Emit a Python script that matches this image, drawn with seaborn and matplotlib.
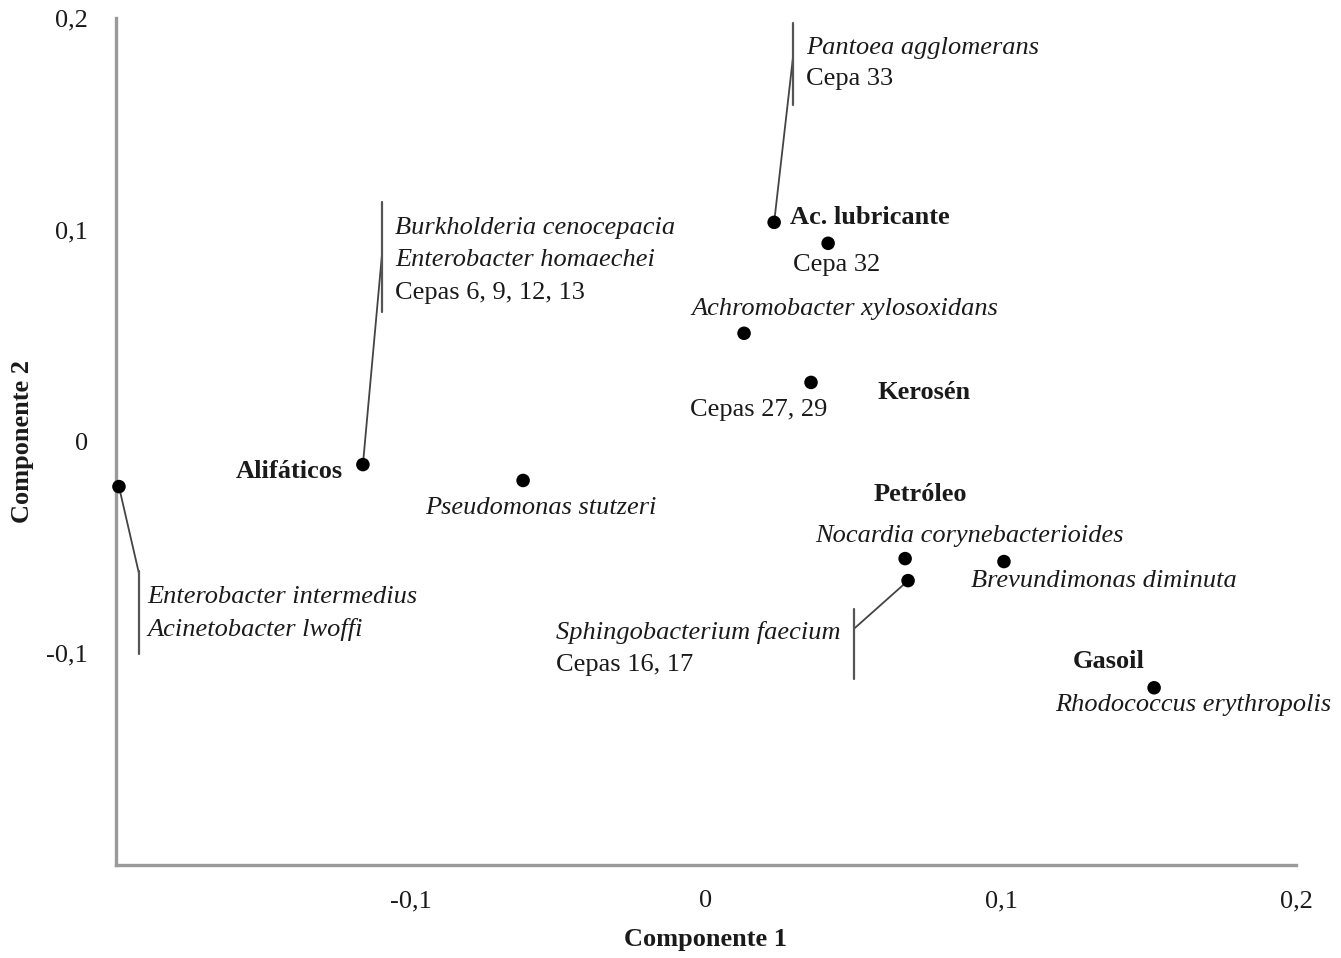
import matplotlib
matplotlib.use("Agg")
import matplotlib.pyplot as plt
import seaborn as sns
import pandas as pd

# Principal component scores of strains and hydrocarbon substrates
comp1 = [-0.199, -0.1163, -0.062, 0.0129, 0.0231, 0.0414, 0.0356, 0.0675, 0.0685, 0.101, 0.1519]
comp2 = [-0.0213, -0.0109, -0.0184, 0.0511, 0.1035, 0.0936, 0.0279, -0.0553, -0.0657, -0.0567, -0.1163]

# Label positions (data units) and styles
label_x = [0.0339, 0.0339, 0.0285, 0.0295, -0.1054, -0.1054, -0.1054, -0.0051, 0.0583,
           -0.0054, -0.1593, -0.0953, 0.0569, 0.0369, 0.0898, -0.0508, -0.0508, 0.1244,
           0.1183, -0.1895, -0.1895]
label_y = [0.1858, 0.1712, 0.1059, 0.0832, 0.1007, 0.0856, 0.0700, 0.0624, 0.0232,
           0.0147, -0.0142, -0.0312, -0.0251, -0.0444, -0.0657, -0.0903, -0.1054, -0.1040,
           -0.1243, -0.0733, -0.0889]
label_text = ["Pantoea agglomerans", "Cepa 33", "Ac. lubricante", "Cepa 32",
              "Burkholderia cenocepacia", "Enterobacter homaechei", "Cepas 6, 9, 12, 13",
              "Achromobacter xylosoxidans", "Kerosén", "Cepas 27, 29", "Alifáticos",
              "Pseudomonas stutzeri", "Petróleo", "Nocardia corynebacterioides",
              "Brevundimonas diminuta", "Sphingobacterium faecium", "Cepas 16, 17",
              "Gasoil", "Rhodococcus erythropolis", "Enterobacter intermedius",
              "Acinetobacter lwoffi"]
label_kind = ["i", "r", "b", "r", "i", "i", "r", "i", "b", "r", "b", "i", "b", "i", "i",
              "i", "r", "b", "i", "i", "i"]

# Leader lines joining grouped points to their labels
leader_x = [[0.0231, 0.0295], [-0.1163, -0.1098], [-0.199, -0.1922], [0.0685, 0.0502]]
leader_y = [[0.1035, 0.1816], [-0.0109, 0.0889], [-0.0213, -0.0624], [-0.0657, -0.0884]]
bracket_x = [0.0295, -0.1098, -0.1922, 0.0502]
bracket_y0 = [0.1976, 0.1130, -0.0610, -0.0790]
bracket_y1 = [0.1589, 0.0610, -0.1002, -0.1121]

ticks = [-0.1, 0.0, 0.1, 0.2]
tick_labels = ["-0,1", "0", "0,1", "0,2"]

sns.set_style("white")
plt.rcParams["font.family"] = ["Liberation Serif", "DejaVu Serif"]

FS = 19
TXT = "#1a1a1a"
fig = plt.figure(figsize=(13.41, 9.58), dpi=100)
ax = fig.add_axes([116 / 1341, 1 - 865 / 958, (1296 - 116) / 1341, (865 - 18) / 958])

df = pd.DataFrame({"c1": comp1, "c2": comp2})
sns.scatterplot(data=df, x="c1", y="c2", ax=ax, color="black", s=95,
                edgecolor="none", zorder=3, clip_on=False)

for lx, ly in zip(leader_x, leader_y):
    ax.plot(lx, ly, color="#444444", lw=1.3, zorder=2, clip_on=False)
for bx, b0, b1 in zip(bracket_x, bracket_y0, bracket_y1):
    ax.plot([bx, bx], [b0, b1], color="#555555", lw=1.6, zorder=2, clip_on=False)

styles = {"i": dict(style="italic", weight="normal"),
          "r": dict(style="normal", weight="normal"),
          "b": dict(style="normal", weight="bold")}
for x, y, t, k in zip(label_x, label_y, label_text, label_kind):
    ax.text(x, y, t, ha="left", va="center", fontsize=FS, color=TXT, **styles[k])

ax.set_xlim(-0.2, 0.2)
ax.set_ylim(-0.2, 0.2)
ax.set_xticks(ticks)
ax.set_xticklabels(tick_labels)
ax.set_yticks(ticks)
ax.set_yticklabels(tick_labels)
ax.tick_params(axis="both", direction="out", length=7, width=1.3, color="#555555",
               labelsize=FS, labelcolor=TXT)
ax.tick_params(axis="x", pad=11)
ax.tick_params(axis="y", pad=13)

for side in ["top", "right"]:
    ax.spines[side].set_visible(False)
for side in ["left", "bottom"]:
    ax.spines[side].set_color("#9a9a9a")
    ax.spines[side].set_linewidth(2.4)

ax.set_xlabel("Componente 1", fontsize=FS, fontweight="bold", color=TXT)
ax.set_ylabel("Componente 2", fontsize=FS, fontweight="bold", color=TXT)
ax.xaxis.set_label_coords(0.5, (865 - 928) / 847)
ax.yaxis.set_label_coords((34 - 116) / 1180, 0.5)

fig.savefig("out.png", dpi=100, facecolor="white")
